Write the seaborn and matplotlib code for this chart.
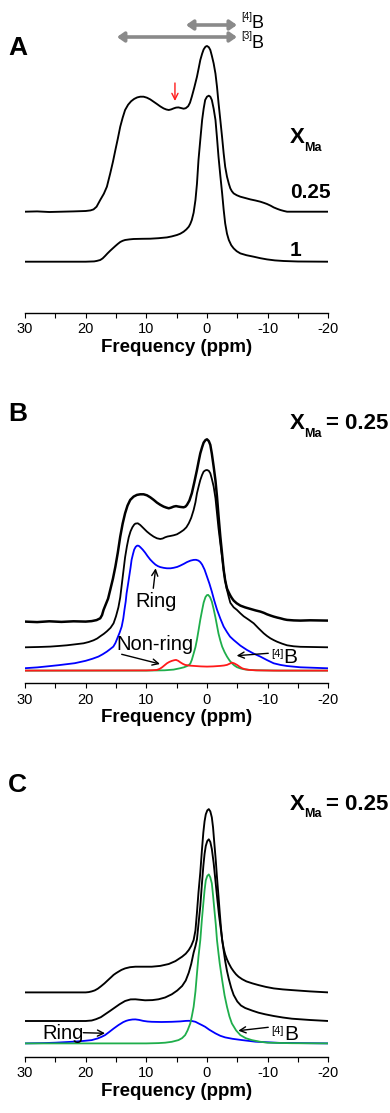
import numpy as np
import matplotlib
matplotlib.use("Agg")
import matplotlib.pyplot as plt
import seaborn as sns

# ---------------- data: (chemical shift in ppm, intensity in arbitrary units) ----------------
# Panel A: 11B spectra for X_Ma = 0.25 and X_Ma = 1
a_025 = [(30, 0), (28, 0.3), (26, -0.3), (24, 0), (22, 0.3), (20, 0.7), (19.2, 1.3), (18.7, 2.3),
         (18.2, 5), (17.6, 11.7), (17.0, 18), (16.5, 25), (15.95, 38.3), (15.5, 50), (15.1, 61.7),
         (14.7, 73), (14.3, 85), (13.9, 94), (13.5, 101.7), (13.0, 107), (12.5, 110.5), (12.0, 112.8),
         (11.5, 114.3), (11.0, 115), (10.45, 115), (9.9, 114), (9.35, 112.3), (8.8, 110), (8.25, 107.7),
         (7.7, 105.3), (7.15, 103.3), (6.7, 102.2), (6.3, 101.7), (5.9, 102.3), (5.5, 103.3), (5.1, 104.1),
         (4.7, 104.3), (4.3, 103.7), (3.85, 103), (3.5, 103.5), (3.1, 105.5), (2.8, 109), (2.5, 115),
         (2.1, 124), (1.65, 135), (1.35, 144), (1.1, 151.7), (0.8, 158), (0.55, 162.3), (0.25, 165),
         (0, 165.7), (-0.3, 164.5), (-0.55, 161.7), (-0.8, 156), (-1.1, 148.3), (-1.4, 138), (-1.65, 125),
         (-1.9, 109), (-2.2, 91.7), (-2.5, 74), (-2.75, 58.3), (-3.0, 45), (-3.3, 35), (-3.6, 28),
         (-3.85, 23.3), (-4.1, 20.5), (-4.4, 18.3), (-4.9, 16.5), (-5.5, 15), (-6.3, 13.7), (-7.15, 12.3),
         (-8, 11.2), (-8.8, 10), (-9.4, 8.8), (-9.9, 7.7), (-10.5, 6), (-11, 4.3), (-11.6, 2.8),
         (-12.1, 1.7), (-12.7, 0.7), (-13.2, 0), (-16, 0), (-20, 0)]

a_1 = [(30, 0), (20, 0), (18.6, 0.3), (18.15, 0.8), (17.6, 1.7), (17.2, 3.3), (16.8, 5.7), (16.4, 8.3),
       (15.95, 11), (15.5, 13.5), (15.1, 15.7), (14.7, 17.8), (14.3, 19.7), (13.9, 20.9), (13.5, 21.7),
       (12.8, 22.3), (12.1, 22.7), (10.7, 22.9), (9.35, 23), (8, 23.5), (6.6, 24.3), (5.8, 25.3),
       (4.95, 26.7), (4.4, 28), (3.85, 30), (3.4, 32.3), (3.0, 35), (2.75, 37.8), (2.5, 41.7), (2.2, 49),
       (1.9, 61.7), (1.65, 78), (1.4, 101.7), (1.1, 122), (0.8, 141.7), (0.55, 153), (0.3, 161.7),
       (0, 165), (-0.3, 166), (-0.55, 165), (-0.8, 161.7), (-1.1, 153), (-1.4, 141.7), (-1.65, 124),
       (-1.9, 105), (-2.2, 86), (-2.5, 68.3), (-2.75, 52), (-3.0, 38.3), (-3.3, 28), (-3.6, 21.7),
       (-4.0, 16.5), (-4.4, 13.3), (-4.9, 10.5), (-5.5, 8.3), (-6.5, 6.5), (-7.7, 5), (-8.8, 3.5),
       (-9.9, 2.3), (-11.2, 1.3), (-12.65, 0.7), (-15, 0.2), (-20, 0)]

# Panel B: X_Ma = 0.25, experiment, fit and components
b_exp = [(30, 0), (28, -0.5), (26, 0.3), (24, -0.3), (22, 0.3), (20, 0), (19, 0.5), (18.2, 1.5),
         (17.6, 3.3), (17.3, 6.5), (17.05, 11.7), (16.7, 17), (16.3, 23), (15.95, 31.7), (15.5, 43),
         (15.1, 55), (14.7, 69), (14.3, 85), (13.9, 98), (13.5, 108.3), (13.1, 116), (12.65, 121.7),
         (12.1, 125), (11.55, 126.7), (11.0, 127.3), (10.45, 127.3), (9.9, 126.3), (9.35, 124.3),
         (8.8, 121.8), (8.25, 119), (7.7, 116.8), (7.15, 115), (6.7, 114), (6.3, 113.3), (5.9, 114),
         (5.5, 115), (5.1, 115.5), (4.7, 115), (4.3, 114.6), (3.85, 114.3), (3.55, 115), (3.3, 116.7),
         (2.9, 121), (2.5, 128.3), (2.1, 139), (1.65, 151.7), (1.35, 161), (1.1, 168.3), (0.8, 174.5),
         (0.55, 179), (0.25, 181.5), (0, 182.3), (-0.3, 180.5), (-0.55, 176.7), (-0.8, 168), (-1.1, 155),
         (-1.4, 141), (-1.65, 125), (-1.9, 106), (-2.2, 85), (-2.5, 67), (-2.75, 51.7), (-3.0, 41),
         (-3.3, 33), (-3.6, 29), (-3.85, 26), (-4.1, 23.5), (-4.4, 21), (-4.9, 18.3), (-5.5, 16),
         (-6.3, 14.2), (-7.15, 12.7), (-8, 11.2), (-8.8, 10), (-9.4, 8.7), (-9.9, 7.3), (-10.5, 6),
         (-11, 5), (-11.6, 4), (-12.1, 3.3), (-12.7, 2.3), (-13.2, 1.7), (-14.3, 1.2), (-15.4, 1),
         (-17, 1.3), (-20, 1)]

b_fit = [(30, 0), (27.8, 0.3), (25.85, 0.7), (24.5, 1.3), (23.1, 2), (21.7, 3), (20.35, 4), (19.5, 5.3),
         (18.7, 7), (18.1, 8.8), (17.6, 11), (17, 13.5), (16.5, 16), (15.9, 19.5), (15.4, 24), (15, 31),
         (14.6, 40), (14.3, 50), (14.06, 62), (13.8, 75), (13.5, 90), (13.2, 101), (12.9, 110), (12.6, 116),
         (12.3, 120), (12.0, 122.7), (11.8, 123.7), (11.4, 124), (11.0, 122.3), (10.5, 119.3), (9.9, 115.7),
         (9.35, 113), (8.8, 110.7), (8.25, 109), (7.7, 108.3), (7.3, 108.8), (6.9, 110), (6.5, 110.8),
         (6.05, 111.3), (5.5, 112), (4.95, 113), (4.4, 115), (3.85, 117.3), (3.4, 120), (3.0, 124),
         (2.6, 129.5), (2.2, 137.3), (1.9, 145), (1.65, 154), (1.35, 161.5), (1.1, 167.3), (0.8, 172.5),
         (0.55, 175.7), (0.25, 177), (0, 177.3), (-0.3, 176.5), (-0.55, 174), (-0.8, 168.5), (-1.1, 160.7),
         (-1.4, 149), (-1.65, 134), (-1.9, 119), (-2.2, 104), (-2.5, 89.5), (-2.75, 77.3), (-3.0, 67),
         (-3.3, 57.3), (-3.6, 50), (-3.85, 44.5), (-4.4, 40), (-4.95, 37.3), (-5.5, 34), (-6.05, 31),
         (-6.9, 27.5), (-7.7, 24), (-8.5, 19), (-9.35, 14), (-9.9, 11.3), (-10.45, 9), (-11, 7.2),
         (-11.55, 5.6), (-12.4, 3.6), (-13.2, 2), (-14.3, 1), (-15.4, 0.5), (-20, 0)]

b_ring = [(30, 3.4), (28, 4.2), (26.7, 5), (24.5, 6.4), (21.8, 8.4), (20, 10.8), (18.9, 12.8), (17.9, 15),
          (17.2, 17.3), (16.5, 20), (16, 22.3), (15.44, 25), (15.1, 28.5), (14.8, 33), (14.4, 39), (14.06, 45),
          (13.8, 53), (13.6, 62), (13.4, 70), (13.26, 78), (13.0, 88), (12.8, 96), (12.6, 104), (12.43, 111.7),
          (12.2, 117.5), (12.0, 122), (11.75, 124.8), (11.5, 126), (11.25, 125.8), (11.0, 124.5), (10.6, 122),
          (10.2, 119), (9.8, 115.5), (9.35, 112), (8.9, 109.2), (8.5, 107), (8.1, 105.5), (7.7, 104.5),
          (7.1, 103.7), (6.6, 103.3), (6.0, 103.3), (5.5, 103.8), (4.9, 104.7), (4.4, 106), (3.8, 107.8),
          (3.3, 109.5), (2.7, 111), (2.2, 111.7), (1.8, 111.8), (1.4, 111), (1.1, 109.5), (0.8, 107),
          (0.4, 102), (0, 95), (-0.4, 88), (-0.8, 80), (-1.2, 71), (-1.65, 62), (-2.2, 53), (-2.75, 45),
          (-3.3, 39.5), (-3.8, 35), (-4.4, 31.6), (-5.5, 26), (-6.6, 21.6), (-7.7, 18), (-8.8, 15),
          (-9.9, 11.5), (-11, 8.3), (-12.1, 6.7), (-13.2, 5.6), (-15.4, 4.3), (-20, 3.3)]

b_b4 = [(30, 1), (10, 1), (7, 1.3), (5.5, 2), (4.4, 3.4), (3.8, 4.3), (3.3, 5.5), (3.0, 6.5), (2.75, 8),
        (2.5, 11.7), (2.2, 18), (1.9, 24.5), (1.65, 32), (1.4, 41), (1.1, 52), (0.8, 61.5), (0.55, 69),
        (0.25, 74.5), (0, 76.5), (-0.2, 76.7), (-0.5, 74.5), (-0.8, 70), (-1.1, 62.5), (-1.4, 54),
        (-1.65, 46), (-1.9, 38), (-2.2, 31), (-2.5, 25), (-2.9, 19.5), (-3.3, 15), (-3.7, 11.3),
        (-4.1, 8.4), (-4.5, 6.2), (-4.95, 4.4), (-5.5, 3.2), (-6.05, 2.4), (-7, 1.7), (-8.25, 1.3),
        (-12, 1), (-20, 1)]

b_nonring = [(30, 1), (10, 1.2), (9, 1.4), (8.25, 1.7), (7.8, 2.7), (7.4, 4.3), (7.0, 6.3), (6.6, 8.3),
             (6.2, 9.7), (5.8, 10.7), (5.4, 11.4), (5.1, 11.7), (4.75, 10.8), (4.4, 9.3), (4.0, 7.8),
             (3.6, 6.7), (2.9, 6), (2.2, 5.7), (1, 5.2), (0, 5), (-1, 5.2), (-2.2, 5.7), (-2.8, 6.1),
             (-3.3, 6.7), (-3.7, 7.8), (-4.1, 9), (-4.5, 8.2), (-4.95, 6.7), (-5.4, 4.8), (-5.8, 3.3),
             (-6.3, 2.3), (-6.9, 1.7), (-8, 1.3), (-11, 1), (-20, 1)]

# Panel C: X_Ma = 0.25, experiment, fit and components
c_exp = [(30, 0), (20, 0), (19.5, 0.3), (19, 1), (18.5, 2), (18, 3.7), (17.5, 6), (16.9, 9), (16.3, 12.4),
         (15.8, 15.2), (15.4, 17.5), (15, 19.2), (14.6, 20.7), (14.1, 22.5), (13.5, 24), (12.7, 25.2),
         (11.8, 25.7), (10.5, 25.7), (9.1, 25.7), (7.7, 26.5), (6.3, 28.4), (5.2, 31.3), (4.1, 35.7),
         (3.5, 38.7), (3.0, 42.4), (2.6, 46.5), (2.2, 52.4), (1.9, 62), (1.65, 80), (1.4, 100), (1.1, 120),
         (0.85, 141), (0.6, 160), (0.4, 171), (0.2, 178), (-0.05, 182), (-0.3, 183.3), (-0.55, 181),
         (-0.8, 175), (-1.0, 165), (-1.2, 150), (-1.45, 132), (-1.65, 115), (-1.9, 96), (-2.1, 80),
         (-2.3, 65), (-2.5, 52.4), (-2.75, 44), (-3.0, 38), (-3.3, 33), (-3.6, 29), (-4.0, 24.5),
         (-4.4, 21), (-4.8, 18), (-5.2, 15.7), (-5.8, 13.2), (-6.5, 11), (-7.5, 9), (-8.5, 7.3),
         (-9.7, 5.5), (-11, 4), (-12.5, 3), (-14, 2.3), (-17, 1), (-20, 0)]

c_fit = [(30, 0), (20, 0), (19, 0.5), (18.3, 1.8), (17.5, 3.8), (16.8, 6.7), (16, 10), (15.2, 13.4),
         (14.4, 16.8), (13.5, 20), (12.6, 21.6), (11.8, 21.7), (11, 21.2), (10.2, 20.7), (9, 20.9),
         (8.0, 21.7), (6.9, 23.5), (5.8, 26.7), (4.9, 30.5), (4.1, 35), (3.5, 40.5), (3.0, 48.4), (2.6, 57),
         (2.2, 68.4), (1.9, 75), (1.65, 81.7), (1.4, 97), (1.1, 115), (0.85, 136), (0.6, 155), (0.4, 167),
         (0.2, 175), (-0.05, 180), (-0.3, 181.7), (-0.55, 179), (-0.8, 172), (-1.1, 158), (-1.4, 140),
         (-1.7, 122), (-2.0, 105), (-2.3, 91), (-2.6, 77), (-3.0, 60), (-3.3, 50), (-3.6, 42), (-4.0, 33),
         (-4.4, 26), (-5.0, 19.5), (-5.6, 15.5), (-6.3, 13), (-7.5, 10.3), (-8.5, 8.3), (-9.6, 6.7),
         (-11, 5), (-12.5, 3.5), (-14, 2.3), (-17, 1), (-20, 0)]

c_ring = [(30, 0), (27, 0.3), (25, 0.7), (22, 1.7), (20.3, 2.5), (19.0, 3.3), (18, 5), (17.4, 6.5),
          (16.8, 8.3), (16.1, 11.5), (15.4, 14.8), (14.6, 18.3), (13.8, 21.3), (13.3, 22.6), (12.9, 23.3),
          (12.3, 23.9), (11.8, 24), (11.2, 23.5), (10.5, 22.5), (9.8, 21.9), (9.1, 21.6), (7.5, 21.4),
          (5.8, 21.6), (4.4, 22), (3.5, 22.5), (3.0, 22.6), (2.5, 22.4), (1.9, 21.6), (1.3, 19.7),
          (0.8, 18.2), (0.3, 16.6), (-0.4, 13.6), (-1.4, 10), (-2.2, 7.6), (-3.0, 6), (-4.2, 4.6),
          (-5.8, 3.3), (-8, 1.7), (-12, 0.5), (-20, 0)]

c_b4 = [(30, 0), (10, 0), (8, 0.3), (6.9, 0.7), (5.8, 1.6), (4.7, 3.3), (4.1, 5.3), (3.6, 8.3), (3.2, 13),
        (2.75, 20), (2.5, 27), (2.2, 36.6), (1.9, 52), (1.65, 70), (1.4, 87), (1.1, 103.3), (0.85, 123),
        (0.6, 140), (0.4, 153), (0.2, 163), (-0.05, 167.5), (-0.3, 169), (-0.55, 166), (-0.8, 160),
        (-1.0, 148), (-1.2, 135), (-1.45, 119), (-1.65, 103.3), (-1.9, 90), (-2.1, 80), (-2.5, 63.3),
        (-2.9, 48), (-3.3, 36.6), (-3.7, 27), (-4.1, 20), (-4.8, 13), (-5.5, 8.3), (-6.4, 5.2),
        (-7.4, 3.3), (-8.7, 1.7), (-10, 0.7), (-14, 0.2), (-20, 0)]

major_ticks = [30, 20, 10, 0, -10, -20]
minor_ticks = [25, 15, 5, -5, -15]

# ---------------- style ----------------
sns.set_theme(style="white")
plt.rcParams['font.family'] = ['Liberation Sans', 'DejaVu Sans']
plt.rcParams['axes.unicode_minus'] = False

W, H = 390, 1113
fig = plt.figure(figsize=(W / 100, H / 100), dpi=100)

BLUE = "#0000ff"
GREEN = "#1fae4b"
RED = "#ff1a1a"
GREY = "#8a8a8a"


def panel(top, bottom):
    ax = fig.add_axes([25 / W, 1 - bottom / H, 303.3 / W, (bottom - top) / H])
    ax.patch.set_alpha(0)
    return ax


def finish(ax, height):
    ax.set_xlim(30, -20)
    ax.set_ylim(0, height)
    for s in ["left", "right", "top"]:
        ax.spines[s].set_visible(False)
    ax.spines["bottom"].set_color("black")
    ax.spines["bottom"].set_linewidth(1.0)
    ax.set_xticks(major_ticks)
    ax.set_xticks(minor_ticks, minor=True)
    ax.set_yticks([])
    ax.tick_params(axis="x", which="both", bottom=True, direction="out", length=3.5,
                   width=0.8, color="black", labelsize=10.5, pad=3.2, labelcolor="black")
    ax.set_ylabel("")
    ax.set_xlabel("Frequency (ppm)", fontsize=13.5, fontweight="bold", labelpad=2, color="black")


def trace(ax, pairs, offset, color, lw):
    ppm, inten = zip(*pairs)
    sns.lineplot(x=list(ppm), y=np.asarray(inten) + offset, ax=ax, color=color, lw=lw,
                 sort=False, estimator=None)


def arrow(ax, tail, tip, color="black", lw=1.0):
    ax.annotate("", xy=tip, xytext=tail,
                arrowprops=dict(arrowstyle="->", color=color, lw=lw,
                                shrinkA=0, shrinkB=0, mutation_scale=11))


def ftext(x, y, s, **kw):
    fig.text(x / W, 1 - y / H, s, va="baseline", ha="left", color="black", **kw)


def xma_label(y, value=None):
    ftext(290, y, "X", fontsize=16, fontweight="bold")
    ftext(304.5, y + 7.3, "Ma", fontsize=9, fontweight="bold")
    if value:
        ftext(326, y, value, fontsize=16, fontweight="bold")


# ---------------- Panel A ----------------
axA = panel(0, 313)
trace(axA, a_025, 101.3, "black", 1.35)
trace(axA, a_1, 51.3, "black", 1.35)
finish(axA, 313)
double = dict(arrowstyle="<|-|>,head_length=0.5,head_width=0.35", color=GREY,
              lw=2.6, shrinkA=0, shrinkB=0, mutation_scale=8)
axA.annotate("", xy=(-4.94, 288), xytext=(3.46, 288), arrowprops=double)
axA.annotate("", xy=(-4.94, 276), xytext=(14.84, 276), arrowprops=double)
axA.text(-5.6, 293, "[4]", fontsize=7, color="black")
axA.text(-7.4, 284.7, "B", fontsize=13, color="black")
axA.text(-5.6, 273.7, "[3]", fontsize=7, color="black")
axA.text(-7.4, 264.7, "B", fontsize=13, color="black")
arrow(axA, (5.28, 230), (5.28, 212), color=RED, lw=1.0)

ftext(8, 55, "A", fontsize=19, fontweight="bold")
xma_label(143.3)
ftext(290.5, 198, "0.25", fontsize=15, fontweight="bold")
ftext(289.5, 256, "1", fontsize=15, fontweight="bold")

# ---------------- Panel B ----------------
axB = panel(370, 683.3)
trace(axB, b_exp, 61.7, "black", 1.8)
trace(axB, b_fit, 36, "black", 1.3)
trace(axB, b_ring, 11.7, BLUE, 1.3)
trace(axB, b_b4, 11.7, GREEN, 1.3)
trace(axB, b_nonring, 11.7, RED, 1.3)
finish(axB, 313.3)
axB.text(8.41, 76.6, "Ring", fontsize=14.5, ha="center", color="black")
arrow(axB, (8.85, 95), (8.46, 115))
axB.text(8.57, 33.3, "Non-ring", fontsize=14.5, ha="center", color="black")
arrow(axB, (14.06, 29), (7.75, 19.3))
axB.text(-10.66, 26.3, "[4]", fontsize=8, color="black")
axB.text(-12.5, 20.3, "B", fontsize=15, color="black")
arrow(axB, (-10.1, 30), (-4.89, 27.6))

ftext(8, 420.7, "B", fontsize=19, fontweight="bold")
xma_label(429.3, "= 0.25")

# ---------------- Panel C ----------------
axC = panel(745, 1056.7)
trace(axC, c_exp, 64.3, "black", 1.35)
trace(axC, c_fit, 35.7, "black", 1.35)
trace(axC, c_ring, 13.3, BLUE, 1.3)
trace(axC, c_b4, 13.3, GREEN, 1.3)
finish(axC, 311.7)
axC.text(23.7, 17.7, "Ring", fontsize=14.5, ha="center", color="black")
arrow(axC, (20.4, 24), (16.8, 23.4))
axC.text(-10.66, 22.7, "[4]", fontsize=8, color="black")
axC.text(-12.7, 16.7, "B", fontsize=15, color="black")
arrow(axC, (-10.1, 29.4), (-5.16, 26))

ftext(8, 791.7, "C", fontsize=19, fontweight="bold")
xma_label(810, "= 0.25")

fig.savefig("out.png", dpi=100, facecolor="white")
